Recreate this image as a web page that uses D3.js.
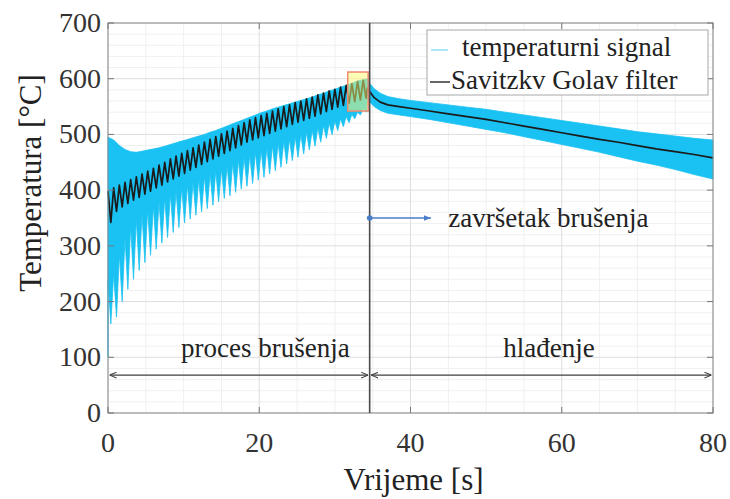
<!DOCTYPE html>
<html><head><meta charset="utf-8">
<script src="https://cdn.jsdelivr.net/npm/d3@7"></script>
<style>
body{margin:0;background:#fff}
svg{display:block}
</style>
</head><body>
<svg id="c" width="730" height="499" font-family="'Liberation Serif', 'Times New Roman', Times, 'DejaVu Serif', serif"></svg>
<script>
// ---- data ----
const xTicks = [0, 20, 40, 60, 80];
const yTicks = [0, 100, 200, 300, 400, 500, 600, 700];
const seriesNames = ["temperaturni signal", "Savitzkv Golav filter"];

// phase 1 (grinding) – one entry per oscillation cycle
const cycleT = [0,0.75,1.5,2.25,3,3.75,4.5,5.25,6,6.75,7.5,8.25,9,9.75,10.5,11.25,12,12.75,13.5,14.25,15,15.75,16.5,17.25,18,18.75,19.5,20.25,21,21.75,22.5,23.25,24,24.75,25.5,26.25,27,27.75,28.5,29.25,30,30.75,31.5,32.25,33,33.75];
const sigTop  = [495,490,480,473,469,468,470,472,474,476,479,482,485,488,491,494,497,500,504,507,511,515,519,523,527,531,535,539,542,546,549,552,555,558,561,564,567,571,574,578,581,585,588,592,596,598];
const sigGap  = [240,250,285,315,335,348,357,365,372,379,386,393,399,405,410,415,420,425,430,435,439,444,449,454,459,463,468,472,476,480,484,488,492,496,500,504,508,512,516,520,524,528,532,536,540,546];
const sigLow  = [160,172,200,222,240,256,270,283,294,305,315,324,333,341,348,355,361,367,373,379,385,390,396,402,407,412,418,423,429,435,441,447,453,459,465,472,479,486,493,500,507,514,521,528,535,540];
const filtHi  = [398,404,409,414,419,424,429,434,439,445,450,456,461,466,471,476,481,486,491,496,501,506,511,516,521,526,530,534,538,542,546,550,553,557,560,564,567,571,574,578,581,585,588,591,595,597];
const filtLo  = [342,362,370,376,382,387,393,398,404,409,415,420,425,430,436,441,446,451,456,461,466,471,476,481,486,490,494,498,502,506,510,514,518,522,525,529,533,537,541,545,549,552,556,559,562,565];

// phase 2 (cooling)
const coolT    = [34.3,34.6,35.2,36,37,38.5,40,42.5,45,47.5,50,52.5,55,57.5,60,62.5,65,67.5,70,72.5,75,77.5,80];
const coolUp   = [600,592,582,574,568,564,561,557,553,549,545,540,535,530,525,520,515,510,505,501,497,493,490];
const coolLo   = [565,558,550,543,538,535,532,527,521,515,509,503,496,489,482,475,468,460,452,445,437,428,420];
const coolFilt = [583,577,566,558,553,550,547,542,537,532,527,521,515,509,503,497,491,486,480,474,469,464,458];

const endGrinding = 34.6;
const highlightBox = {t0: 31.7, t1: 34.4, v0: 542, v1: 612};
const phaseLabels = [{text:"proces brušenja", t:20.8}, {text:"hlađenje", t:58.3}];
const phaseArrowT = 68;
const endLabel = {text:"završetak brušenja", t0:34.6, t1:42.7, v:350, tt:45};

// ---- layout ----
const svg = d3.select("#c");
const x = d3.scaleLinear([0, 80], [108, 713]);
const y = d3.scaleLinear([0, 700], [413, 23]);
const cyan = "#19c2f2";

// grid
const g = svg.append("g");
g.selectAll(".mx").data(d3.range(0, 81, 5).filter(v => v % 20)).join("line")
  .attr("x1", d => x(d)).attr("x2", d => x(d)).attr("y1", y(0)).attr("y2", y(700))
  .attr("stroke", "#f0f0f0").attr("stroke-width", 1);
g.selectAll(".my").data(d3.range(0, 701, 20).filter(v => v % 100)).join("line")
  .attr("y1", d => y(d)).attr("y2", d => y(d)).attr("x1", x(0)).attr("x2", x(80))
  .attr("stroke", "#f0f0f0").attr("stroke-width", 1);
g.selectAll(".gx").data(xTicks).join("line")
  .attr("x1", d => x(d)).attr("x2", d => x(d)).attr("y1", y(0)).attr("y2", y(700))
  .attr("stroke", "#dedede").attr("stroke-width", 1);
g.selectAll(".gy").data(yTicks).join("line")
  .attr("y1", d => y(d)).attr("y2", d => y(d)).attr("x1", x(0)).attr("x2", x(80))
  .attr("stroke", "#dedede").attr("stroke-width", 1);

// cyan signal polygon
const upper = cycleT.map((t, i) => [t, sigTop[i]]).concat(coolT.map((t, i) => [t, coolUp[i]]));
const lowerZig = [];
cycleT.forEach((t, i) => { lowerZig.push([t, sigGap[i]]); lowerZig.push([t + 0.375, sigLow[i]]); });
const lower = lowerZig.concat(coolT.map((t, i) => [t, coolLo[i]]));
const poly = upper.concat(lower.slice().reverse());
poly.unshift([0, 100]);
const line = d3.line().x(d => x(d[0])).y(d => y(d[1]));
svg.append("path").attr("d", line(poly) + "Z").attr("fill", cyan).attr("stroke", cyan).attr("stroke-width", 0.8);

// filtered signal
const filt = [];
cycleT.forEach((t, i) => { filt.push([t, filtHi[i]]); filt.push([t + 0.375, filtLo[i]]); });
coolT.forEach((t, i) => filt.push([t, coolFilt[i]]));
svg.append("path").attr("d", line(filt)).attr("fill", "none").attr("stroke", "#1b1b1b").attr("stroke-width", 1.7).attr("stroke-linejoin", "round");

// highlight box
svg.append("rect")
  .attr("x", x(highlightBox.t0)).attr("y", y(highlightBox.v1))
  .attr("width", x(highlightBox.t1) - x(highlightBox.t0)).attr("height", y(highlightBox.v0) - y(highlightBox.v1))
  .attr("fill", "rgba(255,250,110,0.5)").attr("stroke", "#ee8a70").attr("stroke-width", 1.5);

// axes frame + ticks
svg.append("rect").attr("x", x(0)).attr("y", y(700)).attr("width", x(80) - x(0)).attr("height", y(0) - y(700))
  .attr("fill", "none").attr("stroke", "#8a8a8a").attr("stroke-width", 1);
const tk = svg.append("g").attr("stroke", "#777").attr("stroke-width", 1);
xTicks.forEach(v => {
  tk.append("line").attr("x1", x(v)).attr("x2", x(v)).attr("y1", y(0)).attr("y2", y(0) - 6);
  tk.append("line").attr("x1", x(v)).attr("x2", x(v)).attr("y1", y(700)).attr("y2", y(700) + 6);
});
yTicks.forEach(v => {
  tk.append("line").attr("y1", y(v)).attr("y2", y(v)).attr("x1", x(0)).attr("x2", x(0) + 6);
  tk.append("line").attr("y1", y(v)).attr("y2", y(v)).attr("x1", x(80)).attr("x2", x(80) - 6);
});

// vertical end-of-grinding line
svg.append("line").attr("x1", x(endGrinding)).attr("x2", x(endGrinding)).attr("y1", y(0)).attr("y2", y(700))
  .attr("stroke", "#4a4a4a").attr("stroke-width", 1.6);

// tick labels
svg.append("g").selectAll("text").data(xTicks).join("text")
  .attr("x", d => x(d)).attr("y", 452).attr("text-anchor", "middle")
  .attr("font-size", 28).attr("fill", "#333").text(d => d);
svg.append("g").selectAll("text").data(yTicks).join("text")
  .attr("x", 101).attr("y", d => y(d) + 9).attr("text-anchor", "end")
  .attr("font-size", 28).attr("fill", "#333").text(d => d);

// axis titles
svg.append("text").attr("x", (x(0) + x(80)) / 2 + 3).attr("y", 490).attr("text-anchor", "middle")
  .attr("font-size", 31).attr("fill", "#222").text("Vrijeme [s]");
svg.append("text").attr("transform", "translate(41," + 183 + ") rotate(-90)").attr("text-anchor", "middle")
  .attr("font-size", 31).attr("fill", "#222").text("Temperatura [°C]");

// phase arrows
const defs = svg.append("defs");
defs.append("marker").attr("id", "ah").attr("viewBox", "0 0 10 10").attr("refX", 10).attr("refY", 5)
  .attr("markerWidth", 7).attr("markerHeight", 7).attr("orient", "auto-start-reverse").attr("markerUnits", "userSpaceOnUse")
  .append("path").attr("d", "M0,1 L10,5 L0,9").attr("fill", "none").attr("stroke", "#404040").attr("stroke-width", 1.5);
defs.append("marker").attr("id", "bh").attr("viewBox", "0 0 10 10").attr("refX", 10).attr("refY", 5)
  .attr("markerWidth", 7).attr("markerHeight", 7).attr("orient", "auto").attr("markerUnits", "userSpaceOnUse")
  .append("path").attr("d", "M0,1 L10,5 L0,9 Z").attr("fill", "#4a7ec8");
[[0.2, endGrinding - 0.2], [endGrinding + 0.2, 79.8]].forEach(([a, b]) => {
  svg.append("line").attr("x1", x(a)).attr("x2", x(b)).attr("y1", y(phaseArrowT)).attr("y2", y(phaseArrowT))
    .attr("stroke", "#404040").attr("stroke-width", 1.3)
    .attr("marker-start", "url(#ah)").attr("marker-end", "url(#ah)");
});
svg.append("g").selectAll("text").data(phaseLabels).join("text")
  .attr("x", d => x(d.t)).attr("y", 357).attr("text-anchor", "middle")
  .attr("font-size", 27).attr("fill", "#222").text(d => d.text);

// end annotation
svg.append("line").attr("x1", x(endLabel.t0)).attr("x2", x(endLabel.t1)).attr("y1", y(endLabel.v)).attr("y2", y(endLabel.v))
  .attr("stroke", "#4a7ec8").attr("stroke-width", 1.5).attr("marker-end", "url(#bh)");
svg.append("circle").attr("cx", x(endLabel.t0)).attr("cy", y(endLabel.v)).attr("r", 2.8).attr("fill", "#4a7ec8");
svg.append("text").attr("x", x(endLabel.tt)).attr("y", y(endLabel.v) + 9)
  .attr("font-size", 27).attr("fill", "#222").text(endLabel.text);

// legend
const lg = svg.append("g");
lg.append("rect").attr("x", 427).attr("y", 30).attr("width", 281).attr("height", 65)
  .attr("fill", "#fff").attr("stroke", "#a8a8a8").attr("stroke-width", 1);
lg.append("line").attr("x1", 431).attr("x2", 448).attr("y1", 50).attr("y2", 50).attr("stroke", "#8fdcf6").attr("stroke-width", 1.5);
lg.append("line").attr("x1", 430).attr("x2", 450).attr("y1", 82).attr("y2", 82).attr("stroke", "#333").attr("stroke-width", 1.5);
lg.append("text").attr("x", 462).attr("y", 56).attr("font-size", 27).attr("fill", "#222").text(seriesNames[0]);
lg.append("text").attr("x", 451).attr("y", 89).attr("font-size", 27).attr("fill", "#222").text(seriesNames[1]);
</script>
</body></html>
